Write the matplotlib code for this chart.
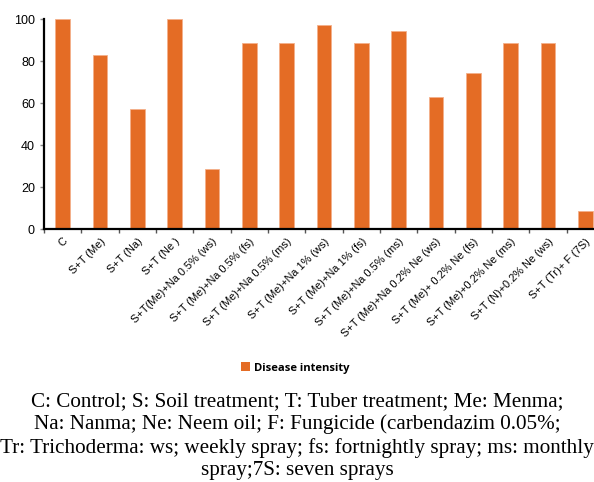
import numpy as np
import matplotlib.pyplot as plt
from matplotlib.patches import Patch

treatments = ['C', 'S+T (Me)', 'S+T (Na)', 'S+T (Ne )',
              'S+T(Me)+Na 0.5% (ws)', 'S+T (Me)+Na 0.5% (fs)',
              'S+T (Me)+Na 0.5% (ms)', 'S+T (Me)+Na 1% (ws)',
              'S+T (Me)+Na 1% (fs)', 'S+T (Me)+Na 0.5% (ms)',
              'S+T (Me)+Na 0.2% Ne (ws)', 'S+T (Me)+ 0.2% Ne (fs)',
              'S+T (Me)+0.2% Ne (ms)', 'S+T (N)+0.2% Ne (ws)',
              'S+T (Tr)+ F (7S)']
disease_intensity = [100, 82.9, 57.1, 100, 28.6, 88.6, 88.6, 97.1,
                     88.6, 94.3, 62.9, 74.3, 88.6, 88.6, 8.6]
yticks = [0, 20, 40, 60, 80, 100]

caption = ("C: Control; S: Soil treatment; T: Tuber treatment; Me: Menma;\n"
           "Na: Nanma; Ne: Neem oil; F: Fungicide (carbendazim 0.05%;\n"
           "Tr: Trichoderma: ws; weekly spray; fs: fortnightly spray; ms: monthly\n"
           "spray;7S: seven sprays")

bar_color = '#E46C25'

plt.rcParams['font.family'] = ['Liberation Sans', 'DejaVu Sans']

fig = plt.figure(figsize=(5.94, 4.82), dpi=100)
# axes runs off the right edge like the original figure crop
ax = fig.add_axes([44 / 594, 1 - 229.3 / 482, 560 / 594, 210 / 482])

x = np.arange(len(treatments))
ax.bar(x, disease_intensity, width=0.4, color=bar_color,
       edgecolor='#F4B08A', linewidth=0.6)

ax.set_xlim(-0.5, len(treatments) - 0.5)
ax.set_ylim(0, 100)
ax.set_yticks(yticks)
ax.tick_params(axis='y', labelsize=9, length=3, width=1, color='#888888')

ax.set_xticks(x)
ax.set_xticklabels(treatments, rotation=45, ha='right', va='top',
                   rotation_mode='anchor', fontsize=7.9)
ax.tick_params(axis='x', length=0, pad=5)
ax.set_xticks(np.arange(len(treatments) + 1) - 0.5, minor=True)
ax.tick_params(axis='x', which='minor', length=3, width=1, color='#555555')

for side in ['top', 'right']:
    ax.spines[side].set_visible(False)
ax.spines['left'].set_linewidth(1.6)
ax.spines['bottom'].set_linewidth(1.6)

handle = Patch(facecolor=bar_color, edgecolor='none')
fig.legend([handle], ['Disease intensity'], loc='center',
           bbox_to_anchor=(295 / 594, 1 - 368 / 482), frameon=False,
           prop={'family': 'Open Sans', 'weight': 'bold', 'size': 8.1},
           handlelength=0.85, handleheight=0.85, handletextpad=0.35)

fig.text(297 / 594, 1 - 436 / 482, caption, ha='center', va='center',
         fontsize=15.2, family='Liberation Serif', linespacing=1.22)

fig.savefig('out.png', dpi=100)
